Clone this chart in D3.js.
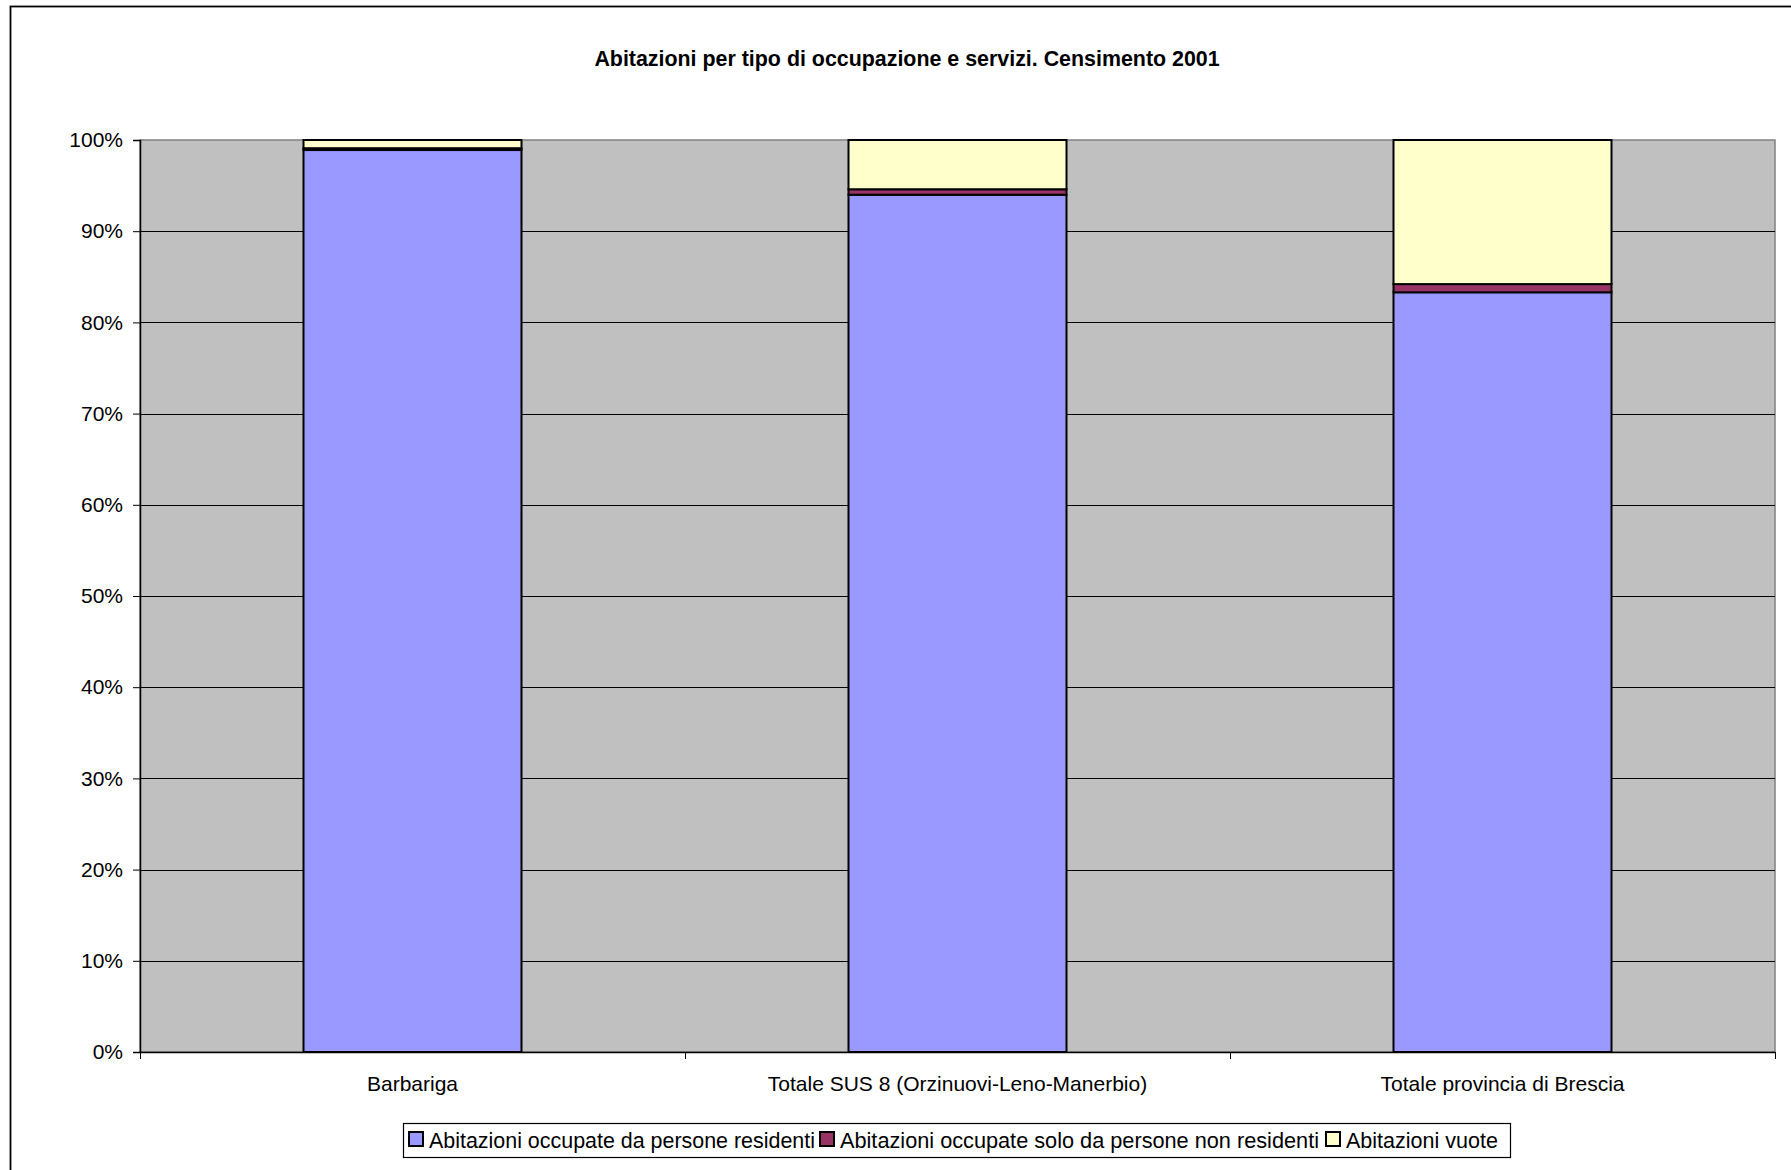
<!DOCTYPE html>
<html>
<head>
<meta charset="utf-8">
<script src="https://cdn.jsdelivr.net/npm/d3@7"></script>
<style>
  html, body { margin: 0; padding: 0; background: #ffffff; }
  svg { display: block; font-family: "Liberation Sans", Arial, sans-serif; }
</style>
</head>
<body>
<svg id="chart" width="1791" height="1170"></svg>
<script>
const categories = ["Barbariga", "Totale SUS 8 (Orzinuovi-Leno-Manerbio)", "Totale provincia di Brescia"];
const seriesNames = ["Abitazioni occupate da persone residenti", "Abitazioni occupate solo da persone non residenti", "Abitazioni vuote"];
const residenti = [98.9, 94.0, 83.3];
const nonResidenti = [0.2, 0.6, 0.9];
const vuote = [0.9, 5.4, 15.8];
const yTicks = [0, 10, 20, 30, 40, 50, 60, 70, 80, 90, 100];
const title = "Abitazioni per tipo di occupazione e servizi. Censimento 2001";

const colors = ["#9999FF", "#993366", "#FFFFCC"];

const svg = d3.select("#chart");
const W = 1791, H = 1170;
const plot = { left: 140, right: 1775, top: 140, bottom: 1052 };

// outer chart border (extends past right/bottom edges)
svg.append("rect")
  .attr("x", 10.5).attr("y", 6.5)
  .attr("width", W + 20).attr("height", H + 20)
  .attr("fill", "#fff").attr("stroke", "#000").attr("stroke-width", 1.8);

// title
svg.append("text")
  .attr("x", 907).attr("y", 66)
  .attr("text-anchor", "middle")
  .attr("font-size", 21.4).attr("font-weight", "bold")
  .attr("fill", "#000")
  .text(title);

const x = d3.scaleBand().domain(categories)
  .range([plot.left, plot.right])
  .paddingInner(0.6).paddingOuter(0.3);
const y = d3.scaleLinear().domain([0, 100]).range([plot.bottom, plot.top]);

// plot area
svg.append("rect")
  .attr("x", plot.left).attr("y", plot.top)
  .attr("width", plot.right - plot.left).attr("height", plot.bottom - plot.top)
  .attr("fill", "#C0C0C0").attr("stroke", "#808080").attr("stroke-width", 1.5);

// gridlines
svg.append("g").selectAll("line")
  .data(yTicks.filter(t => t > 0 && t < 100))
  .join("line")
  .attr("x1", plot.left).attr("x2", plot.right)
  .attr("y1", d => Math.round(y(d)) + 0.5).attr("y2", d => Math.round(y(d)) + 0.5)
  .attr("stroke", "#000").attr("stroke-width", 1);

// stacked bars
const rows = categories.map((c, i) => ({ cat: c, s0: residenti[i], s1: nonResidenti[i], s2: vuote[i] }));
const stack = d3.stack().keys(["s0", "s1", "s2"]);
const stacked = stack(rows);

svg.append("g").selectAll("g")
  .data(stacked)
  .join("g")
  .attr("fill", (d, i) => colors[i])
  .selectAll("rect")
  .data(d => d)
  .join("rect")
  .attr("x", d => x(d.data.cat))
  .attr("width", x.bandwidth())
  .attr("y", d => y(d[1]))
  .attr("height", d => y(d[0]) - y(d[1]))
  .attr("stroke", "#000").attr("stroke-width", 2);

// y axis
const yAxis = d3.axisLeft(y).tickValues(yTicks).tickFormat(d => d + "%").tickSize(7).tickPadding(10);
const gy = svg.append("g").attr("transform", `translate(${plot.left},0)`).call(yAxis);
gy.select(".domain").attr("stroke", "#000").attr("stroke-width", 1.5);
gy.selectAll(".tick line").attr("stroke", "#000");
gy.selectAll(".tick text").attr("font-size", 21).attr("fill", "#000").attr("font-family", "Liberation Sans, Arial, sans-serif");

// x axis
const xAxis = d3.axisBottom(x).tickSize(0).tickPadding(24);
const gx = svg.append("g").attr("transform", `translate(0,${plot.bottom})`).call(xAxis);
gx.select(".domain").attr("stroke", "#000").attr("stroke-width", 1.5);
gx.selectAll(".tick text").attr("font-size", 21).attr("fill", "#000").attr("font-family", "Liberation Sans, Arial, sans-serif");
// boundary ticks between categories
const boundaries = [plot.left].concat(categories.map(c => x(c) + x.bandwidth() / 2 + x.step() / 2));
gx.append("g").selectAll("line")
  .data(boundaries)
  .join("line")
  .attr("x1", d => Math.round(d) + 0.5).attr("x2", d => Math.round(d) + 0.5)
  .attr("y1", 0).attr("y2", 7)
  .attr("stroke", "#000");

// legend
const legend = svg.append("g");
legend.append("rect")
  .attr("x", 403.5).attr("y", 1123.5).attr("width", 1107).attr("height", 34)
  .attr("fill", "#fff").attr("stroke", "#000").attr("stroke-width", 1.2);
const legendX = [408, 819, 1325];
const legendTextW = [386, 479, 152];
seriesNames.forEach((name, i) => {
  legend.append("rect")
    .attr("x", legendX[i] + 1).attr("y", 1132).attr("width", 14).attr("height", 14)
    .attr("fill", colors[i]).attr("stroke", "#000").attr("stroke-width", 2);
  legend.append("text")
    .attr("x", legendX[i] + 21).attr("y", 1148)
    .attr("font-size", 21.5).attr("fill", "#000")
    .attr("textLength", legendTextW[i]).attr("lengthAdjust", "spacingAndGlyphs")
    .text(name);
});
</script>
</body>
</html>
